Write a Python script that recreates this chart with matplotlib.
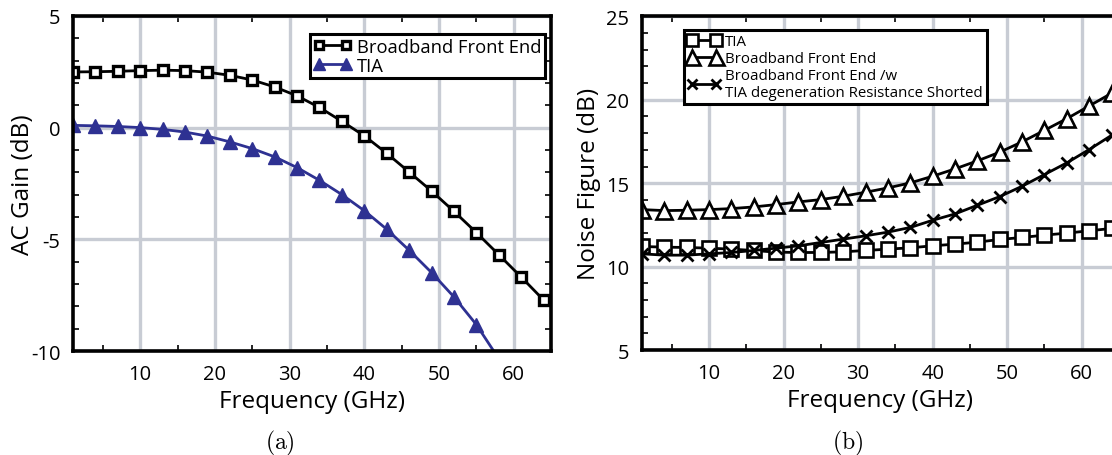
import matplotlib
matplotlib.use("Agg")
import matplotlib.pyplot as plt
from matplotlib.ticker import MultipleLocator

plt.rcParams["font.family"] = ["Open Sans", "DejaVu Sans"]
plt.rcParams["axes.unicode_minus"] = False
plt.rcParams["mathtext.fontset"] = "cm"

# frequency points (GHz)
freq = [1, 4, 7, 10, 13, 16, 19, 22, 25, 28, 31, 34, 37, 40, 43, 46, 49, 52, 55, 58, 61, 64]

# (a) AC gain, dB
gain_front_end = [2.49, 2.50, 2.52, 2.55, 2.57, 2.55, 2.48, 2.34, 2.13, 1.82, 1.42, 0.90,
                  0.28, -0.37, -1.15, -1.99, -2.84, -3.75, -4.70, -5.69, -6.69, -7.72]
gain_tia = [0.10, 0.08, 0.05, 0.00, -0.08, -0.20, -0.38, -0.64, -0.94, -1.31, -1.79, -2.36,
            -3.00, -3.72, -4.55, -5.49, -6.49, -7.58, -8.82, -10.35, -11.8, -13.3]

# (b) noise figure, dB
nf_tia = [11.21, 11.17, 11.15, 11.11, 11.05, 10.97, 10.87, 10.85, 10.85, 10.89, 10.97, 11.05,
          11.13, 11.25, 11.35, 11.47, 11.63, 11.75, 11.89, 12.01, 12.15, 12.29]
nf_front_end = [13.42, 13.36, 13.38, 13.42, 13.48, 13.58, 13.72, 13.88, 14.02, 14.22, 14.46, 14.72,
                15.02, 15.42, 15.86, 16.34, 16.86, 17.48, 18.17, 18.87, 19.63, 20.39]
nf_shorted = [10.77, 10.69, 10.69, 10.77, 10.85, 10.97, 11.11, 11.25, 11.45, 11.65, 11.85, 12.07,
              12.35, 12.78, 13.16, 13.68, 14.20, 14.82, 15.52, 16.22, 17.02, 17.87]

blue = "#2e3192"
grid_col = "#c8ccd4"

fig = plt.figure(figsize=(11.12, 4.56), dpi=100)
ax1 = fig.add_axes([0.0656, 0.228, 0.430, 0.735])
ax2 = fig.add_axes([0.5773, 0.230, 0.429, 0.732])


def style_axes(ax, ymin, ymax):
    ax.set_xlim(1, 65)
    ax.set_ylim(ymin, ymax)
    ax.xaxis.set_major_locator(MultipleLocator(10))
    ax.xaxis.set_minor_locator(MultipleLocator(5))
    ax.yaxis.set_major_locator(MultipleLocator(5))
    ax.yaxis.set_minor_locator(MultipleLocator(1))
    ax.grid(True, which="major", color=grid_col, linewidth=2.4)
    ax.set_axisbelow(True)
    ax.tick_params(which="both", direction="in", top=True, right=True, labelsize=14.5)
    ax.tick_params(which="major", length=0, pad=9)
    ax.tick_params(which="minor", length=4, width=1.2)
    for s in ax.spines.values():
        s.set_linewidth(2.6)
    ax.set_xlabel("Frequency (GHz)", fontsize=17.5, labelpad=4)


style_axes(ax1, -10, 5)
ax1.set_yticks([-10, -5, 0, 5])
ax1.set_xticks([10, 20, 30, 40, 50, 60])
ax1.plot(freq, gain_front_end, color="black", lw=2, marker="s", ms=7,
         mfc="white", mec="black", mew=2.4, label="Broadband Front End")
ax1.plot(freq, gain_tia, color=blue, lw=2, marker="^", ms=10.5,
         mfc=blue, mec=blue, label="TIA")
ax1.set_ylabel("AC Gain (dB)", fontsize=17.5, labelpad=-3)
leg1 = ax1.legend(loc="upper right", bbox_to_anchor=(0.988, 0.946), borderaxespad=0,
                  fontsize=13.2, numpoints=2, handlelength=2.1, handletextpad=0.3,
                  labelspacing=0.05, borderpad=0.2, fancybox=False, framealpha=1,
                  edgecolor="black", markerscale=0.8)
leg1.get_frame().set_linewidth(2.2)

style_axes(ax2, 5, 25)
ax2.set_xticks([10, 20, 30, 40, 50, 60])
ax2.plot(freq, nf_tia, color="black", lw=2, marker="s", ms=10,
         mfc="white", mec="black", mew=1.9, label="TIA")
ax2.plot(freq, nf_front_end, color="black", lw=2, marker="^", ms=12,
         mfc="white", mec="black", mew=1.9, label="Broadband Front End")
ax2.plot(freq, nf_shorted, color="black", lw=2, marker="x", ms=8, mew=2,
         label="Broadband Front End /w\nTIA degeneration Resistance Shorted")
ax2.set_ylabel("Noise Figure (dB)", fontsize=17.5, labelpad=4)
leg2 = ax2.legend(loc="upper left", bbox_to_anchor=(0.088, 0.958), borderaxespad=0,
                  fontsize=10.8, numpoints=2, handlelength=2.2, handletextpad=0.3,
                  labelspacing=0.12, borderpad=0.25, fancybox=False, framealpha=1,
                  edgecolor="black", markerscale=0.9)
leg2.get_frame().set_linewidth(2.2)

fig.text(280 / 1112, 1 - 443 / 456, r"$\mathrm{(a)}$", fontsize=17, ha="center", va="center")
fig.text(848 / 1112, 1 - 443 / 456, r"$\mathrm{(b)}$", fontsize=17, ha="center", va="center")

fig.savefig("out.png", dpi=100)
